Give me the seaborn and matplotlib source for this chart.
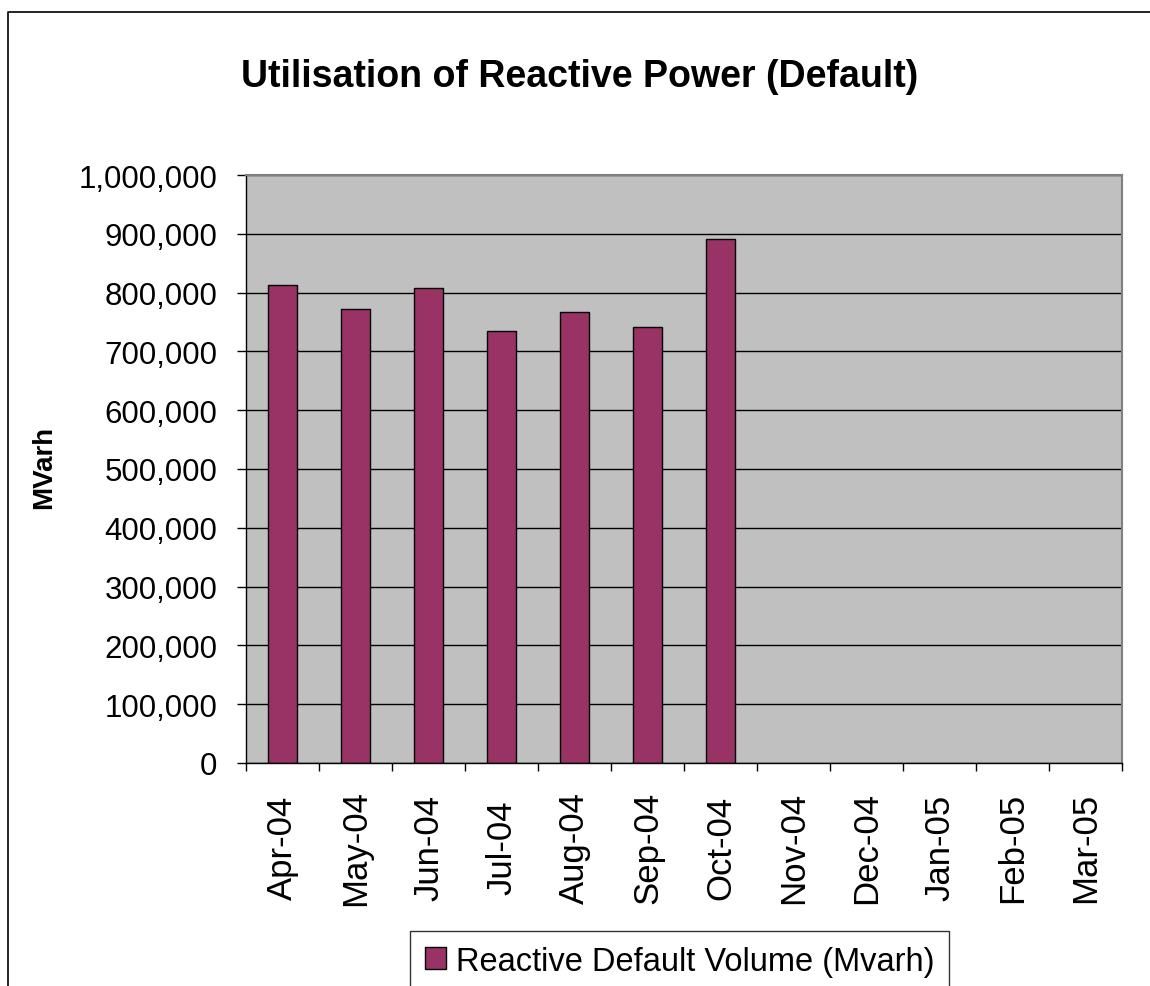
import numpy as np
import matplotlib
matplotlib.use('Agg')
import matplotlib.pyplot as plt
import seaborn as sns
from matplotlib.lines import Line2D
from matplotlib.ticker import FuncFormatter, FixedLocator

# Data
months = ['Apr-04', 'May-04', 'Jun-04', 'Jul-04', 'Aug-04', 'Sep-04',
          'Oct-04', 'Nov-04', 'Dec-04', 'Jan-05', 'Feb-05', 'Mar-05']
default_volume = [813000, 771500, 808000, 735000, 766500, 741000,
                  891000, np.nan, np.nan, np.nan, np.nan, np.nan]
y_ticks = list(range(0, 1000001, 100000))

series_name = 'Reactive Default Volume (Mvarh)'
chart_title = 'Utilisation of Reactive Power (Default)'

sns.set_theme(style='white')
plt.rcParams['font.family'] = ['Liberation Sans', 'DejaVu Sans']
plt.rcParams['text.color'] = 'black'
plt.rcParams['axes.labelcolor'] = 'black'
plt.rcParams['xtick.color'] = 'black'
plt.rcParams['ytick.color'] = 'black'

fig = plt.figure(figsize=(11.5, 9.87), dpi=100)
ax = fig.add_axes([246 / 1150, 1 - 764 / 987, 876 / 1150, 588 / 987])
ax.set_facecolor('#C0C0C0')

sns.barplot(x=months, y=default_volume, order=months, color='#993366',
            saturation=1, edgecolor='black', linewidth=1, width=0.4,
            label=series_name, ax=ax)
if ax.get_legend() is not None:
    ax.get_legend().remove()

ax.set_xlim(-0.5, len(months) - 0.5)
ax.set_ylim(0, 1000000)
ax.set_yticks(y_ticks)
ax.yaxis.set_major_formatter(FuncFormatter(lambda v, p: f'{int(v):,}'))
ax.grid(axis='y', color='black', linewidth=1)
ax.set_axisbelow(True)

for s in ['left', 'bottom']:
    ax.spines[s].set_color('black')
    ax.spines[s].set_linewidth(1)
for s in ['top', 'right']:
    ax.spines[s].set_color('#808080')
    ax.spines[s].set_linewidth(1.5)

ax.tick_params(axis='y', direction='out', length=6.5, width=1,
               labelsize=22.5, labelcolor='black', pad=14, left=True)
ax.xaxis.set_minor_locator(FixedLocator(np.arange(-0.5, len(months), 1)))
ax.tick_params(axis='x', which='minor', direction='out', length=6, width=1,
               bottom=True)
ax.tick_params(axis='x', which='major', length=0, pad=60.5, labelsize=25,
               labelcolor='black')
for lab in ax.get_xticklabels():
    lab.set_rotation(90)
    lab.set_va('center')
    lab.set_ha('center')
ax.set_xlabel('')
ax.set_ylabel('')

fig.text(580 / 1150, 1 - 77 / 987, chart_title, ha='center', va='center',
         fontsize=27, fontweight='bold', color='black')
fig.text(44 / 1150, 1 - 467 / 987, 'MVarh', ha='center', va='center',
         rotation=90, fontsize=20, fontweight='bold', color='black')

handles, labels = ax.get_legend_handles_labels()
leg = fig.legend(handles[:1], [series_name], loc='upper left',
                 bbox_to_anchor=(410 / 1150, 1 - 932 / 987), borderaxespad=0,
                 frameon=True, fancybox=False, shadow=False, fontsize=23.5,
                 handlelength=0.65, handleheight=0.65, handletextpad=0.3,
                 borderpad=0.45)
leg.get_frame().set_edgecolor('black')
leg.get_frame().set_linewidth(1)
leg.get_frame().set_facecolor('white')

# chart outer border (cut off on the right and bottom)
fig.add_artist(Line2D([8 / 1150, 8 / 1150, 1.0], [0.0, 1 - 13 / 987, 1 - 13 / 987],
                      transform=fig.transFigure, color='black', linewidth=1.2))

fig.savefig('out.png', dpi=100, facecolor='white')
